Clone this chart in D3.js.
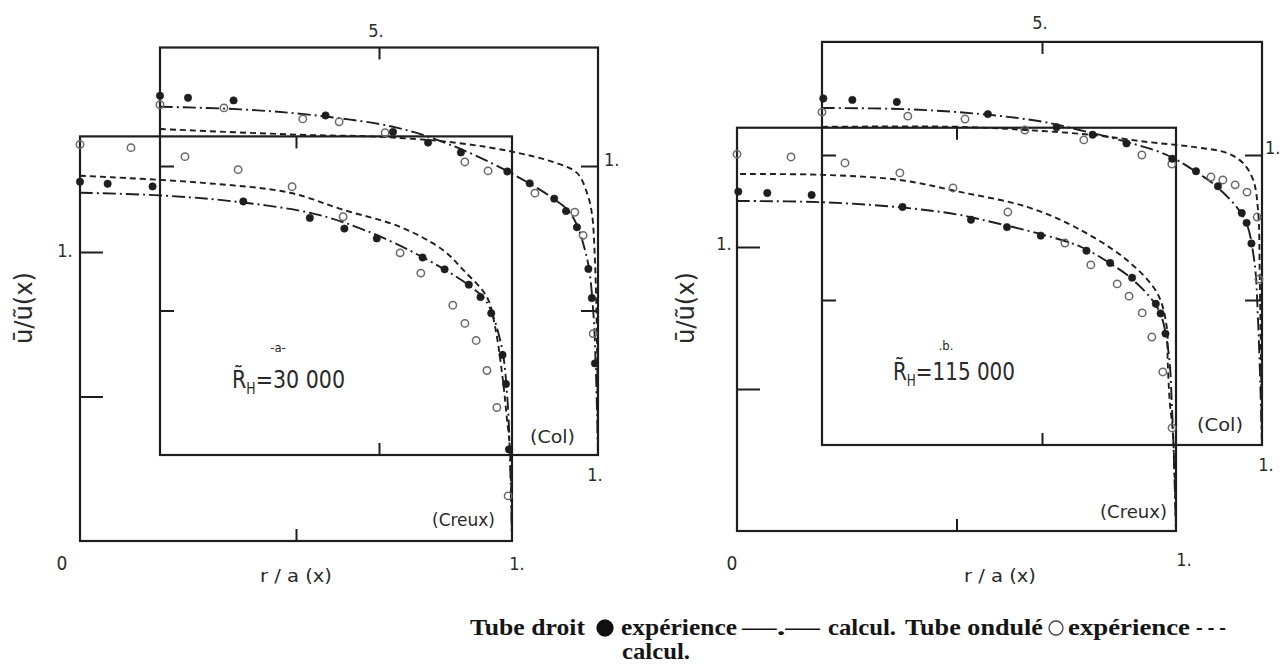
<!DOCTYPE html>
<html><head><meta charset="utf-8">
<script src="https://cdn.jsdelivr.net/npm/d3@7"></script>
<style>body{margin:0;background:#fff}svg{display:block}</style>
</head><body>
<svg id="c" width="1288" height="666"></svg>
<script>
// ---------- tick values & labels ----------
const xTickVals = [0.5];
const yTickVals = [0.5, 1];
const topTickLabel = "5.";
const oneLabel = "1.";
const zeroLabel = "0";
const xAxisTitle = "r / a (x)";
const yAxisTitle = "ū/ũ(x)";
const panelTags = ["-a-", ".b."];
const reynolds = ["30 000", "115 000"];

// ---------- panel a data (r/a, u/ū) ----------
const aDroitExp = [[0,1.243],[0.064,1.236],[0.168,1.227],[0.378,1.175],[0.532,1.118],[0.612,1.081],[0.687,1.047],[0.793,0.981],[0.844,0.940],[0.900,0.887],[0.927,0.844],[0.952,0.788],[0.978,0.644],[0.986,0.543],[0.993,0.317]];
const aDroitCalc = [[0,1.205],[0.184,1.196],[0.35,1.176],[0.54,1.133],[0.66,1.075],[0.793,0.982],[0.90,0.885],[0.94,0.83],[0.975,0.68],[0.989,0.50],[0.995,0.30],[1,0]];
const aColExp = [[0,1.212],[0.146,1.201],[0.326,1.163],[0.409,1.153],[0.514,1.115],[0.696,1.014],[0.749,0.983],[0.856,0.906],[0.947,0.840],[0.966,0.760],[0.989,0.420]];
const aColCalc = [[0,1.128],[0.32,1.108],[0.502,1.101],[0.678,1.080],[0.806,1.049],[0.897,1.014],[0.952,0.976],[0.975,0.906],[0.986,0.837],[0.993,0.674],[0.998,0.361],[1,0]];
const aCreuxExp = [[0,1.372],[0.118,1.361],[0.243,1.330],[0.366,1.285],[0.491,1.226],[0.609,1.122],[0.741,0.997],[0.789,0.927],[0.863,0.816],[0.891,0.753],[0.917,0.694],[0.942,0.590],[0.965,0.462],[0.991,0.156]];
const aCreuxCalc = [[0,1.264],[0.278,1.240],[0.486,1.205],[0.609,1.146],[0.741,1.087],[0.840,1.007],[0.887,0.938],[0.942,0.844],[0.961,0.740],[0.979,0.556],[0.988,0.427],[0.995,0.323],[1,0]];

// ---------- panel b data ----------
const bDroitExp = [[0.003,1.195],[0.069,1.19],[0.17,1.183],[0.377,1.141],[0.533,1.096],[0.615,1.07],[0.692,1.04],[0.796,0.987],[0.85,0.944],[0.90,0.892],[0.954,0.80],[0.965,0.766],[0.976,0.695]];
const bDroitCalc = [[0,1.162],[0.19,1.158],[0.37,1.14],[0.50,1.115],[0.58,1.088],[0.693,1.045],[0.784,1.0],[0.852,0.94],[0.90,0.887],[0.96,0.78],[0.982,0.64],[0.991,0.43],[1,0]];
const bColExp = [[0,1.148],[0.195,1.134],[0.325,1.124],[0.461,1.086],[0.595,1.052],[0.727,1.0],[0.795,0.969],[0.884,0.924],[0.911,0.914],[0.939,0.897],[0.966,0.872],[0.989,0.786],[0.993,0.572]];
const bColCalc = [[0,1.097],[0.314,1.097],[0.466,1.086],[0.616,1.069],[0.739,1.045],[0.843,1.028],[0.92,1.007],[0.957,0.972],[0.98,0.914],[0.991,0.81],[0.995,0.57],[1,0]];
const bCreuxExp = [[0,1.327],[0.123,1.317],[0.246,1.296],[0.371,1.261],[0.492,1.208],[0.617,1.123],[0.747,1.014],[0.806,0.937],[0.866,0.870],[0.893,0.827],[0.923,0.768],[0.945,0.683],[0.970,0.560],[0.991,0.363]];
const bCreuxCalc = [[0.007,1.257],[0.196,1.254],[0.371,1.236],[0.508,1.194],[0.661,1.141],[0.774,1.067],[0.888,0.954],[0.957,0.838],[0.979,0.718],[0.981,0.60],[0.986,0.451],[0.993,0.345],[1,0]];

// ---------- legend ----------
const legendItems = [
  {t:"Tube droit", x:470, w:115},
  {sym:"filled", x:605},
  {t:"expérience", x:621, w:116},
  {t:"—.—", x:742, w:78},
  {t:"calcul.", x:828, w:68},
  {t:"Tube ondulé", x:905, w:138},
  {sym:"open", x:1056},
  {t:"expérience", x:1068, w:122},
  {t:"- - -", x:1196, w:30}
];
const legendLine2 = {t:"calcul.", x:622, w:68};

// ---------- layout ----------
const panels = [
  {droitExp:aDroitExp, droitCalc:aDroitCalc, colExp:aColExp, colCalc:aColCalc, creuxExp:aCreuxExp, creuxCalc:aCreuxCalc,
   outer:{x0:80,x1:512,y0:541,y1:252,top:1.4}, inner:{x0:160,x1:598,y0:455,y1:166,top:1.41},
   yTitle:[32,308], xTitle:[296,582], zero:[62,570], outerOne:[517,570], leftOne:[65,257],
   topLbl:[376,37], rightOne:[604,166], innerOne:[595,481], col:[530,443,45], creux:[432,526,63],
   tag:[278,352], re:[232,388,113]},
  {droitExp:bDroitExp, droitCalc:bDroitCalc, colExp:bColExp, colCalc:bColCalc, creuxExp:bCreuxExp, creuxCalc:bCreuxCalc,
   outer:{x0:737,x1:1176,y0:531,y1:247,top:1.42}, inner:{x0:822,x1:1262,y0:445,y1:155,top:1.39},
   yTitle:[694,308], xTitle:[1000,582], zero:[732,570], outerOne:[1184,566], leftOne:[724,250],
   topLbl:[1040,29], rightOne:[1265,154], innerOne:[1266,471], col:[1197,431,46], creux:[1100,518,67],
   tag:[946,350], re:[893,380,122]}
];

const svg = d3.select("#c");
const ink = "#1e1e1e";
const labelFont = "'Liberation Sans Narrow','DejaVu Sans Condensed','DejaVu Sans',sans-serif";

function makeScales(b){
  return {x:d3.scaleLinear().domain([0,1]).range([b.x0,b.x1]),
          y:d3.scaleLinear().domain([0,1]).range([b.y0,b.y1]), top:b.top};
}

function drawBox(g, s, opts){
  const {x,y} = s;
  g.append("rect").attr("x",x(0)).attr("y",y(s.top)).attr("width",x(1)-x(0)).attr("height",y(0)-y(s.top))
    .attr("fill","none").attr("stroke",ink).attr("stroke-width",2.2);
  const tk = (axis, transform, size) => {
    const a = g.append("g").attr("transform",transform).call(axis.tickSize(size).tickFormat(""));
    a.select(".domain").remove();
    a.selectAll("line").attr("stroke",ink).attr("stroke-width",2);
  };
  tk(d3.axisLeft(y).tickValues(yTickVals), `translate(${x(0)},0)`, -opts.leftLen);
  tk(d3.axisBottom(x).tickValues(xTickVals), `translate(0,${y(0)})`, -12);
  tk(d3.axisTop(x).tickValues(xTickVals), `translate(0,${y(s.top)})`, -12);
  if(opts.right) tk(d3.axisRight(y).tickValues(yTickVals), `translate(${x(1)},0)`, -17);
}

function drawSeries(g, s, pts, style){
  if(style==="dashdot" || style==="dotted"){
    g.append("path").datum(pts).attr("d", d3.line().x(d=>s.x(d[0])).y(d=>s.y(d[1])).curve(d3.curveCatmullRom.alpha(0.5)))
      .attr("fill","none").attr("stroke",ink).attr("stroke-width",1.9)
      .attr("stroke-dasharray", style==="dashdot" ? "13,4,2,4" : "6,4");
  } else {
    g.selectAll(null).data(pts).enter().append("circle")
      .attr("cx",d=>s.x(d[0])).attr("cy",d=>s.y(d[1])).attr("r",3.7)
      .attr("fill", style==="filled" ? ink : "none")
      .attr("stroke", style==="filled" ? ink : "#6a6a6a")
      .attr("stroke-width", style==="filled" ? 0.6 : 1.5);
  }
}

function txt(g, pos, str, size, anchor){
  const t = g.append("text").attr("x",pos[0]).attr("y",pos[1]).attr("font-family",labelFont)
    .attr("font-size",size||15).attr("fill","#2a2a2a").attr("text-anchor",anchor||"middle").text(str);
  if(pos[2]) t.attr("textLength",pos[2]).attr("lengthAdjust","spacingAndGlyphs");
  return t;
}

panels.forEach((p,i)=>{
  const g = svg.append("g");
  const so = makeScales(p.outer), si = makeScales(p.inner);
  drawBox(g, so, {leftLen:23, right:false});
  drawBox(g, si, {leftLen:14, right:true});
  // data: creux (outer) and col (inner); tube droit shown in both
  [[so,p.creuxCalc,p.creuxExp],[si,p.colCalc,p.colExp]].forEach(([s,calc,exp])=>{
    drawSeries(g, s, p.droitCalc, "dashdot");
    drawSeries(g, s, calc, "dotted");
    drawSeries(g, s, exp, "open");
    drawSeries(g, s, p.droitExp, "filled");
  });
  // labels
  txt(g, p.zero, zeroLabel, 19);
  txt(g, p.outerOne, oneLabel, 18);
  txt(g, p.leftOne, oneLabel, 18);
  txt(g, p.topLbl, topTickLabel, 18);
  txt(g, p.rightOne, oneLabel, 18, "start");
  txt(g, p.innerOne, oneLabel, 18);
  txt(g, [p.xTitle[0],p.xTitle[1],72], xAxisTitle, 17);
  txt(g, p.col, "(Col)", 17, "start");
  txt(g, p.creux, "(Creux)", 17, "start");
  txt(g, p.tag, panelTags[i], 13);
  g.append("text").attr("transform",`translate(${p.yTitle[0]},${p.yTitle[1]}) rotate(-90)`)
    .attr("font-family",labelFont).attr("font-size",24).attr("fill","#2a2a2a").attr("text-anchor","middle")
    .attr("textLength",72).attr("lengthAdjust","spacingAndGlyphs").text(yAxisTitle);
  const re = g.append("text").attr("x",p.re[0]).attr("y",p.re[1]).attr("font-family",labelFont)
    .attr("font-size",25).attr("fill","#2a2a2a").attr("textLength",p.re[2]).attr("lengthAdjust","spacingAndGlyphs");
  re.append("tspan").attr("fill","#2a2a2a").text("R̃");
  re.append("tspan").attr("fill","#2a2a2a").attr("font-size",15).attr("dy",6).text("H");
  re.append("tspan").attr("fill","#2a2a2a").attr("dy",-6).text("=" + reynolds[i]);
});

// legend
const lg = svg.append("g").attr("font-family","'Liberation Serif','DejaVu Serif',serif").attr("font-weight","bold").attr("fill","#151515");
const ly = 635;
legendItems.forEach(it=>{
  if(it.t){
    lg.append("text").attr("x",it.x).attr("y",ly).attr("font-size",23).attr("textLength",it.w).attr("lengthAdjust","spacingAndGlyphs").text(it.t);
  } else {
    lg.append("circle").attr("cx",it.x).attr("cy",ly-7).attr("r",it.sym==="filled"?8:7)
      .attr("fill",it.sym==="filled"?"#111":"none").attr("stroke",it.sym==="filled"?"#111":"#444").attr("stroke-width",1.3);
  }
});
lg.append("text").attr("x",legendLine2.x).attr("y",ly+24).attr("font-size",23).attr("textLength",legendLine2.w).attr("lengthAdjust","spacingAndGlyphs").text(legendLine2.t);
</script>
</body></html>
